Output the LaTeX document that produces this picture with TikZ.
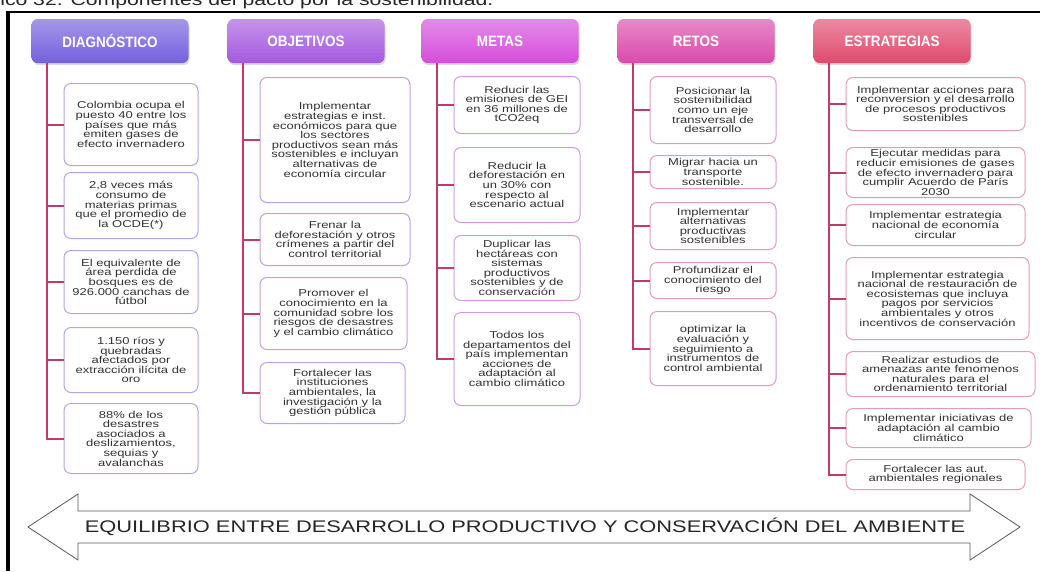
\documentclass[tikz,border=0pt]{standalone}
\usepackage{fontspec}
\setmainfont{Liberation Sans}[FakeStretch=1.3]
\newfontfamily\headfont{Liberation Sans}[FakeStretch=0.9]
\usetikzlibrary{shadows}
\definecolor{diagc}{HTML}{7460DE}
\definecolor{objc}{HTML}{A559E0}
\definecolor{metc}{HTML}{D54CDC}
\definecolor{retc}{HTML}{DA4AAB}
\definecolor{estc}{HTML}{E04A6E}
\definecolor{stemc}{HTML}{C43A66}
\definecolor{lndiag}{HTML}{B9A2E6}
\definecolor{lnobj}{HTML}{C49EE2}
\definecolor{lnmet}{HTML}{D29CDC}
\definecolor{lnret}{HTML}{DE98CB}
\definecolor{lnest}{HTML}{E49CB2}

\begin{document}
\begin{tikzpicture}[
    x=1pt, y=-1pt,
    hdr/.style={rectangle, rounded corners=6pt, top color=#1!65!white, bottom color=#1,
                minimum width=157pt, minimum height=44pt, text=white,
                font=\headfont\bfseries\fontsize{15}{18}\selectfont,
                drop shadow={shadow xshift=1pt, shadow yshift=-2pt, opacity=0.3}},
    item/.style={rectangle, rounded corners=7pt, draw=#1, fill=white, line width=1pt,
                 anchor=north west, align=center, inner sep=2pt, text=black!80,
                 font=\fontsize{10}{9.6}\selectfont},
    stem/.style={draw=stemc, line width=2pt},
    bigarrow/.style={draw=black!65, line width=0.8pt, fill=white}
]
\useasboundingbox (0,0) rectangle (1051,571);
\clip (0,0) rectangle (1051,571);

% caption (cut by the frame edge) and frame
\node[anchor=base east, font=\fontsize{16.3}{18}\selectfont, text=black!85] (title) at (497,5)
    {Gráfico 32. Componentes del pacto por la sostenibilidad.};
\draw[black, line width=2pt] (6,12) -- (1040,12);
\draw[black, line width=3.5pt] (8,11) -- (8,571);

% headers
\node[hdr=diagc] (hdiag) at (110,41) {DIAGNÓSTICO};
\node[hdr=objc] (hobj) at (306,41) {OBJETIVOS};
\node[hdr=metc] (hmet) at (500,41) {METAS};
\node[hdr=retc] (hret) at (696,41) {RETOS};
\node[hdr=estc] (hest) at (892,41) {ESTRATEGIAS};

% Diagnostico
\node[item=lndiag, minimum width=134pt, minimum height=82pt] (d1) at (63.5,83)
    {Colombia ocupa el\\puesto 40  entre los\\países que más\\emiten gases de\\efecto invernadero};
\node[item=lndiag, minimum width=134pt, minimum height=66pt] (d2) at (63.5,172)
    {2,8 veces más\\consumo de\\materias primas\\que el promedio de\\la OCDE(*)};
\node[item=lndiag, minimum width=134pt, minimum height=63pt] (d3) at (63.5,250)
    {El equivalente de\\área perdida de\\bosques es de\\926.000 canchas de\\fútbol};
\node[item=lndiag, minimum width=134pt, minimum height=65pt] (d4) at (63.5,327)
    {1.150 ríos y\\quebradas\\afectados por\\extracción ilícita de\\oro};
\node[item=lndiag, minimum width=134pt, minimum height=70pt] (d5) at (63.5,403)
    {88\% de los\\desastres\\asociados a\\deslizamientos,\\sequias y\\avalanchas};

% Objetivos
\node[item=lnobj, minimum width=150pt, minimum height=125pt] (o1) at (259.5,77)
    {Implementar\\estrategias e inst.\\económicos para que\\los sectores\\productivos sean más\\sostenibles e incluyan\\alternativas de\\economía circular};
\node[item=lnobj, minimum width=150pt, minimum height=52pt] (o2) at (259.5,213)
    {Frenar la\\deforestación y otros\\crímenes a partir del\\control territorial};
\node[item=lnobj, minimum width=147pt, minimum height=72pt] (o3) at (259.5,277)
    {Promover el\\conocimiento en la\\comunidad sobre los\\riesgos de desastres\\y el cambio climático};
\node[item=lnobj, minimum width=145pt, minimum height=61pt] (o4) at (259.5,362)
    {Fortalecer las\\instituciones\\ambientales, la\\investigación y la\\gestión pública};

% Metas
\node[item=lnmet, minimum width=126pt, minimum height=57pt] (m1) at (453.5,76)
    {Reducir las\\emisiones de GEI\\en 36 millones de\\tCO2eq};
\node[item=lnmet, minimum width=126pt, minimum height=75pt] (m2) at (453.5,147)
    {Reducir la\\deforestación en\\un 30\% con\\respecto al\\escenario actual};
\node[item=lnmet, minimum width=126pt, minimum height=65pt] (m3) at (453.5,235)
    {Duplicar las\\hectáreas con\\sistemas\\productivos\\sostenibles y de\\conservación};
\node[item=lnmet, minimum width=126pt, minimum height=93pt] (m4) at (453.5,312)
    {Todos los\\departamentos del\\país implementan\\acciones de\\adaptación al\\cambio climático};

% Retos
\node[item=lnret, minimum width=126pt, minimum height=67pt] (r1) at (649.5,76)
    {Posicionar la\\sostenibilidad\\como un eje\\transversal de\\desarrollo};
\node[item=lnret, minimum width=126pt, minimum height=33pt] (r2) at (649.5,155)
    {Migrar hacia un\\transporte\\sostenible.};
\node[item=lnret, minimum width=126pt, minimum height=47pt] (r3) at (649.5,202)
    {Implementar\\alternativas\\productivas\\sostenibles};
\node[item=lnret, minimum width=126pt, minimum height=36pt] (r4) at (649.5,262)
    {Profundizar el\\conocimiento del\\riesgo};
\node[item=lnret, minimum width=126pt, minimum height=74pt] (r5) at (649.5,311)
    {optimizar la\\evaluación y\\seguimiento a\\instrumentos de\\control ambiental};

% Estrategias
\node[item=lnest, minimum width=179pt, minimum height=53pt] (e1) at (845.5,77)
    {Implementar acciones para\\reconversion y el desarrollo\\de procesos productivos\\sostenibles};
\node[item=lnest, minimum width=179pt, minimum height=50pt] (e2) at (845.5,147)
    {Ejecutar medidas para\\reducir emisiones de gases\\de efecto invernadero para\\cumplir Acuerdo de París\\2030};
\node[item=lnest, minimum width=179pt, minimum height=41pt] (e3) at (845.5,204)
    {Implementar estrategia\\nacional de economía\\circular};
\node[item=lnest, minimum width=183pt, minimum height=82pt] (e4) at (845.5,257)
    {Implementar estrategia\\nacional de restauración de\\ecosistemas que incluya\\pagos por servicios\\ambientales y otros\\incentivos de conservación};
\node[item=lnest, minimum width=189pt, minimum height=45pt] (e5) at (845.5,351)
    {Realizar estudios de\\amenazas ante fenomenos\\naturales para el\\ordenamiento territorial};
\node[item=lnest, minimum width=185pt, minimum height=39pt] (e6) at (845.5,408)
    {Implementar iniciativas de\\adaptación al cambio\\climático};
\node[item=lnest, minimum width=179pt, minimum height=30pt] (e7) at (845.5,459)
    {Fortalecer las aut.\\ambientales regionales};

% stems and ticks
\draw[stem] ([xshift=16pt]hdiag.south west) |- (d5.west);
\draw[stem] (d1.west) -- ++(-16,0);
\draw[stem] (d2.west) -- ++(-16,0);
\draw[stem] (d3.west) -- ++(-16,0);
\draw[stem] (d4.west) -- ++(-16,0);

\draw[stem] ([xshift=16pt]hobj.south west) |- (o4.west);
\draw[stem] (o1.west) -- ++(-16,0);
\draw[stem] (o2.west) -- ++(-16,0);
\draw[stem] (o3.west) -- ++(-16,0);

\draw[stem] ([xshift=16pt]hmet.south west) |- (m4.west);
\draw[stem] (m1.west) -- ++(-16,0);
\draw[stem] (m2.west) -- ++(-16,0);
\draw[stem] (m3.west) -- ++(-16,0);

\draw[stem] ([xshift=16pt]hret.south west) |- (r5.west);
\draw[stem] (r1.west) -- ++(-16,0);
\draw[stem] (r2.west) -- ++(-16,0);
\draw[stem] (r3.west) -- ++(-16,0);
\draw[stem] (r4.west) -- ++(-16,0);

\draw[stem] ([xshift=16pt]hest.south west) |- (e7.west);
\draw[stem] (e1.west) -- ++(-16,0);
\draw[stem] (e2.west) -- ++(-16,0);
\draw[stem] (e3.west) -- ++(-16,0);
\draw[stem] (e4.west) -- ++(-16,0);
\draw[stem] (e5.west) -- ++(-16,0);
\draw[stem] (e6.west) -- ++(-16,0);

% bottom double arrow
\draw[bigarrow] (28,527) -- (78,494) -- (78,511) -- (970,511) -- (970,494) -- (1020,527)
    -- (970,560) -- (970,543) -- (78,543) -- (78,560) -- cycle;
\node[font=\fontsize{16.8}{18}\selectfont, text=black!85] (balance) at (525,527)
    {EQUILIBRIO ENTRE DESARROLLO PRODUCTIVO Y CONSERVACIÓN DEL AMBIENTE};

\end{tikzpicture}
\end{document}
